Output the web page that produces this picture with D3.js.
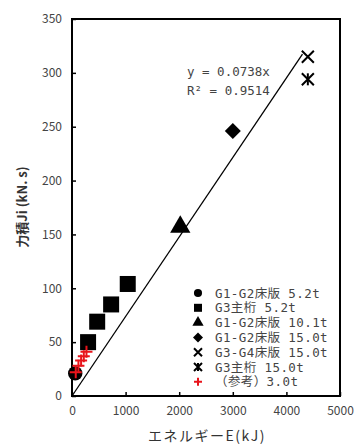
<!DOCTYPE html>
<html>
<head>
<meta charset="utf-8">
<script src="https://cdn.jsdelivr.net/npm/d3@7"></script>
<style>
body { margin: 0; background: #fff; }
text { font-family: "Noto Sans CJK JP", "DejaVu Sans", sans-serif; }
.mono { font-family: "DejaVu Sans Mono", "Noto Sans CJK JP", monospace; }
</style>
</head>
<body>
<div id="chart"></div>
<script>
// points, [E (kJ), Ji (kN.s)]
var g1g2_52 = [[60, 21]]
var g3_52 = [[300, 50], [470, 69], [730, 85], [1040, 104]]
var g1g2_101 = [[2020, 157]]
var g1g2_150 = [[3000, 246]]
var g3g4_150 = [[4400, 315]]
var g3_150 = [[4400, 294]]
var ref_30 = [[70, 22], [120, 28], [170, 33], [220, 37], [270, 41]]

var legendLabels = ["G1-G2床版 5.2t", "G3主桁 5.2t", "G1-G2床版 10.1t", "G1-G2床版 15.0t",
	"G3-G4床版 15.0t", "G3主桁 15.0t", "（参考）3.0t"]
var xTicks = [0, 1000, 2000, 3000, 4000, 5000]
var yTicks = [0, 50, 100, 150, 200, 250, 300, 350]
var slope = 0.0738, trendEnd = 4300

var W = 357, H = 446
// plot box edges (don't call it "top", window.top is taken)
var pLeft = 72, pRight = 340, pTop = 19, pBottom = 396

var svg = d3.select("#chart").append("svg").attr("width", W).attr("height", H)

var x = d3.scaleLinear().domain([0, 5000]).range([pLeft, pRight])
var y = d3.scaleLinear().domain([0, 350]).range([pBottom, pTop])

// inward ticks, like the excel chart
svg.append("g").attr("transform", "translate(0," + pBottom + ")")
	.call(d3.axisBottom(x).tickValues(xTicks).tickFormat(d3.format("d"))
		.tickSizeInner(-4).tickSizeOuter(0).tickPadding(10))
	.call(function(a) {
		a.select(".domain").remove()
		a.selectAll("line").attr("stroke", "#000").attr("stroke-width", 1.5)
		a.selectAll("text").attr("font-size", 12).attr("fill", "#444")
	})

svg.append("g").attr("transform", "translate(" + pLeft + ",0)")
	.call(d3.axisLeft(y).tickValues(yTicks).tickFormat(d3.format("d"))
		.tickSizeInner(-4).tickSizeOuter(0).tickPadding(10))
	.call(function(a) {
		a.select(".domain").remove()
		a.selectAll("line").attr("stroke", "#000").attr("stroke-width", 1.5)
		a.selectAll("text").attr("font-size", 12).attr("fill", "#444")
	})

// frame
svg.append("rect").attr("x", pLeft).attr("y", pTop)
	.attr("width", pRight - pLeft).attr("height", pBottom - pTop)
	.attr("fill", "none").attr("stroke", "#000").attr("stroke-width", 2)

// trend line y = 0.0738x
svg.append("line")
	.attr("x1", x(0)).attr("y1", y(0))
	.attr("x2", x(trendEnd)).attr("y2", y(slope * trendEnd))
	.attr("stroke", "#000").attr("stroke-width", 1.3)

svg.append("text").attr("class", "mono").attr("x", 187).attr("y", 76).attr("font-size", 12.5).attr("fill", "#444")
	.text("y = 0.0738x")
svg.append("text").attr("class", "mono").attr("x", 187).attr("y", 95).attr("font-size", 12.5).attr("fill", "#444")
	.text("R² = 0.9514")

// marker drawers
function circle(s, sz) { s.append("circle").attr("r", sz * 0.45).attr("fill", "#000") }
function square(s, sz) { s.append("rect").attr("x", -sz / 2).attr("y", -sz / 2).attr("width", sz).attr("height", sz).attr("fill", "#000") }
function tri(s, sz) { s.append("path").attr("d", d3.symbol(d3.symbolTriangle, sz * sz * 0.55)()).attr("fill", "#000") }
function diamond(s, sz) { s.append("path").attr("d", "M0," + (-sz / 2) + "L" + (sz / 2) + ",0L0," + (sz / 2) + "L" + (-sz / 2) + ",0Z").attr("fill", "#000") }
function cross(s, sz, col, w) {
	var h = sz / 2
	s.append("path").attr("d", "M" + -h + "," + -h + "L" + h + "," + h + "M" + -h + "," + h + "L" + h + "," + -h)
		.attr("stroke", col || "#000").attr("stroke-width", w || 2).attr("fill", "none")
}
function star(s, sz) {
	cross(s, sz)
	s.append("path").attr("d", "M0," + (-sz / 2) + "L0," + (sz / 2)).attr("stroke", "#000").attr("stroke-width", 2)
}
function plus(s, sz) {
	var h = sz / 2
	s.append("path").attr("d", "M" + -h + ",0L" + h + ",0M0," + -h + "L0," + h)
		.attr("stroke", "#e8141b").attr("stroke-width", 2).attr("fill", "none")
}

var series = [
	{ pts: g1g2_52, draw: circle, sz: 16, lsz: 9 },
	{ pts: g3_52, draw: square, sz: 16, lsz: 8 },
	{ pts: g1g2_101, draw: tri, sz: 18, lsz: 10 },
	{ pts: g1g2_150, draw: diamond, sz: 16, lsz: 10 },
	{ pts: g3g4_150, draw: cross, sz: 12, lsz: 8 },
	{ pts: g3_150, draw: star, sz: 12, lsz: 8 },
	{ pts: ref_30, draw: plus, sz: 12, lsz: 8 }
]

series.forEach(function(sr) {
	sr.pts.forEach(function(d) {
		var g = svg.append("g").attr("transform", "translate(" + x(d[0]) + "," + y(d[1]) + ")")
		sr.draw(g, sr.sz)
	})
})

// legend
series.forEach(function(sr, i) {
	var ly = 293 + i * 14.8
	var g = svg.append("g").attr("transform", "translate(198," + ly + ")")
	sr.draw(g, sr.lsz)
	svg.append("text").attr("class", "mono").attr("x", 215).attr("y", ly + 4.5)
		.attr("font-size", 12.5).attr("letter-spacing", 0.4).attr("fill", "#444")
		.text(legendLabels[i])
})

// axis titles
svg.append("text").attr("x", 207).attr("y", 441).attr("text-anchor", "middle")
	.attr("font-size", 14).attr("letter-spacing", 1.5).attr("fill", "#333").text("エネルギーE(kJ)")
svg.append("text").attr("transform", "translate(27,207) rotate(-90)").attr("text-anchor", "middle")
	.attr("font-size", 13).attr("font-weight", "bold").attr("fill", "#333").text("力積Ji (kN. s)")
</script>
</body>
</html>
